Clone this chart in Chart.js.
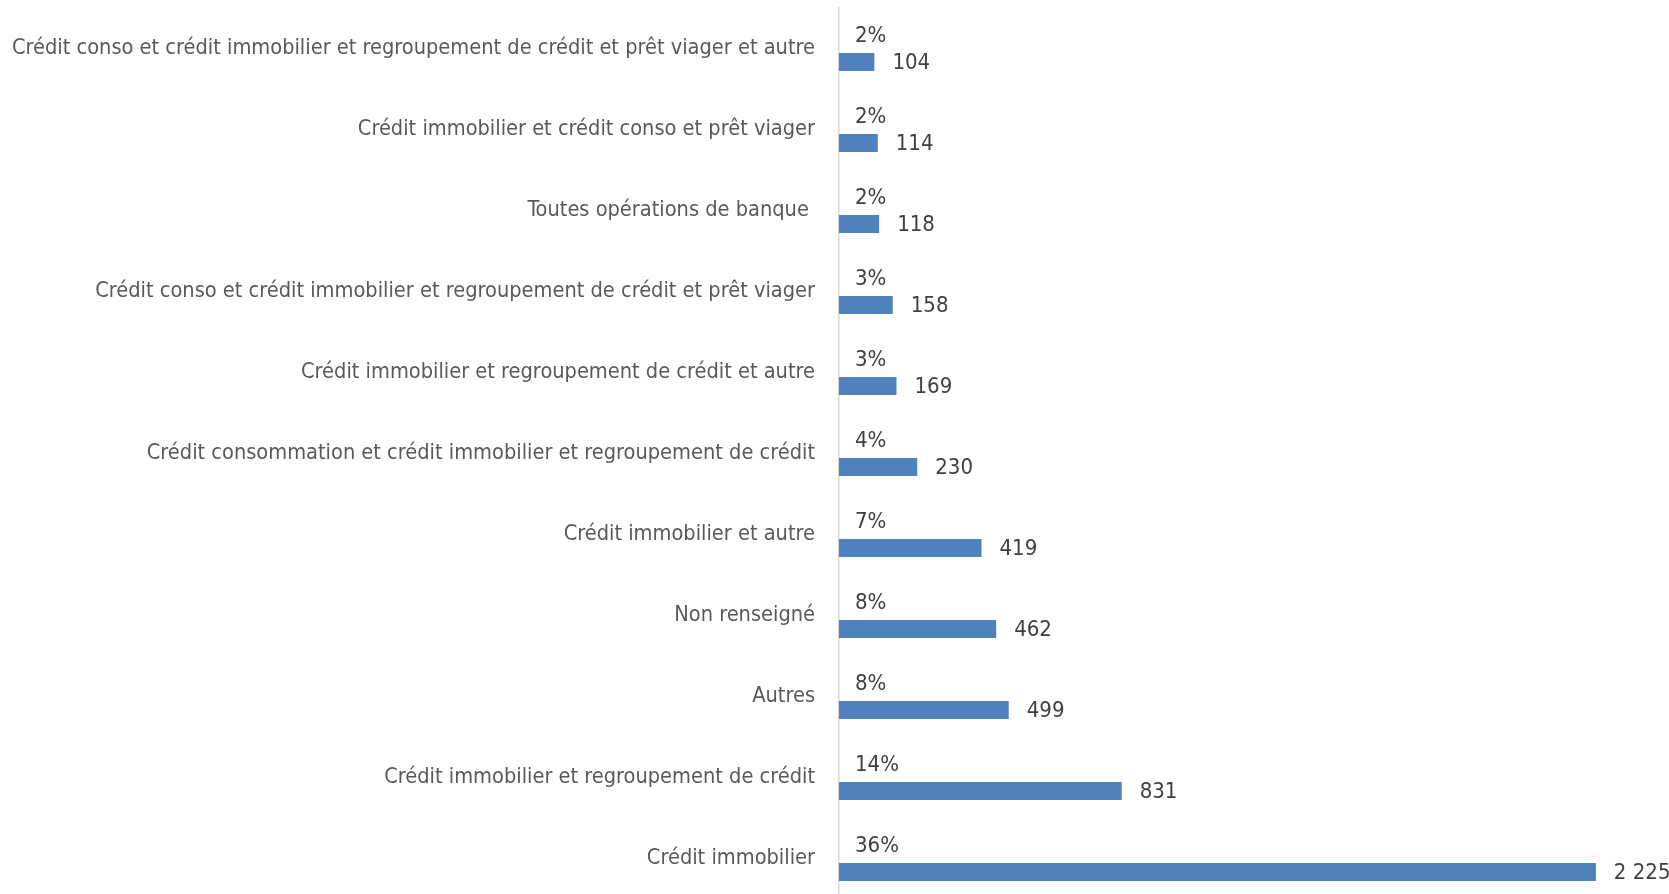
<!DOCTYPE html>
<html lang="fr">
<head>
    <meta charset="UTF-8">
    <title>Répartition des activités</title>
    <script src="https://cdn.jsdelivr.net/npm/chart.js"></script>
    <style>
        body { margin: 0; overflow: hidden; background: #fff; }
        #boite { width: 1669px; height: 900px; }
    </style>
</head>
<body>
    <div id="boite"><canvas id="graphique"></canvas></div>
    <script>
        const categories = [
            "Crédit conso et crédit immobilier et regroupement de crédit et prêt viager et autre",
            "Crédit immobilier et crédit conso et prêt viager",
            "Toutes opérations de banque ",
            "Crédit conso et crédit immobilier et regroupement de crédit et prêt viager",
            "Crédit immobilier et regroupement de crédit et autre",
            "Crédit consommation et crédit immobilier et regroupement de crédit",
            "Crédit immobilier et autre",
            "Non renseigné",
            "Autres",
            "Crédit immobilier et regroupement de crédit",
            "Crédit immobilier"
        ];
        const parts = [2, 2, 2, 3, 3, 4, 7, 8, 8, 14, 36];
        const effectifs = [104, 114, 118, 158, 169, 230, 419, 462, 499, 831, 2225];

        const police = "'Liberation Sans Narrow', 'DejaVu Sans Condensed', Lato, sans-serif";
        const espace = n => String(n).replace(/\B(?=(\d{3})+(?!\d))/g, ' ');

        // étiquettes : % au-dessus (près de l'axe), effectif au bout de la barre
        const etiquettes = {
            id: 'etiquettes',
            afterDatasetsDraw(chart) {
                const ctx = chart.ctx, x0 = chart.scales.x.getPixelForValue(0);
                ctx.save();
                ctx.font = "22px " + police;
                ctx.fillStyle = '#404040';
                ctx.textBaseline = 'middle';
                ctx.textAlign = 'left';
                chart.getDatasetMeta(0).data.forEach((b, i) => ctx.fillText(parts[i] + '%', x0 + 16, b.y + 1));
                chart.getDatasetMeta(1).data.forEach((b, i) => ctx.fillText(espace(effectifs[i]), b.x + 18, b.y + 1));
                ctx.restore();
            }
        };

        new Chart(document.getElementById('graphique'), {
            type: 'bar',
            data: {
                labels: categories,
                datasets: [
                    { label: 'Part', data: parts, backgroundColor: 'rgba(0,0,0,0)' },
                    { label: 'Effectif', data: effectifs, backgroundColor: '#4f81bd' }
                ]
            },
            options: {
                indexAxis: 'y',
                responsive: true,
                maintainAspectRatio: false,
                animation: false,
                categoryPercentage: 0.667,
                barPercentage: 0.667,
                layout: { padding: { top: 8, bottom: 1, right: 0, left: 0 } },
                plugins: { legend: { display: false }, tooltip: { enabled: false } },
                scales: {
                    x: { display: false, min: 0, max: 2440 },
                    y: {
                        afterFit: s => { s.width = 839; s.paddingTop = 0; s.paddingBottom = 0; },
                        grid: { display: false, drawTicks: false },
                        border: { display: true, color: '#d9d9d9', width: 1.5 },
                        ticks: { padding: 24, color: '#595959', font: { family: police, size: 21.6 } }
                    }
                }
            },
            plugins: [etiquettes]
        });
    </script>
</body>
</html>
